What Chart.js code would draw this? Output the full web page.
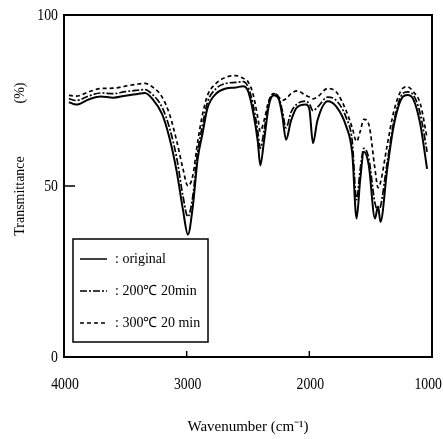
<!DOCTYPE html>
<html>
<head>
<meta charset="utf-8">
<script src="https://cdn.jsdelivr.net/npm/chart.js@4.4.1/dist/chart.umd.min.js"></script>
<style>
html,body{margin:0;padding:0;background:#fff}
#c{display:block}
</style>
</head>
<body>
<canvas id="c" width="443" height="439"></canvas>
<script>
/* ── data ── */
const wavenumbers=[3960,3900,3800,3700,3600,3500,3400,3340,3280,3200,3140,3080,3030,2990,2950,2910,2870,2830,2760,2680,2600,2540,2500,2460,2420,2400,2370,2330,2290,2250,2220,2190,2150,2100,2030,2000,1970,1935,1850,1780,1700,1650,1615,1585,1555,1515,1465,1440,1420,1365,1310,1240,1200,1150,1095,1040];
const original=[74.5,73.8,75.3,76.2,75.8,76.4,76.9,77.2,75.5,71,64,54,43,35.8,44,58,65.5,72.8,77,78.5,78.8,79.2,77.8,72,63,56,63,73.5,76.5,75.5,70.5,63.5,69,73,73.8,72.5,62.5,69,74.8,73.2,67.5,59.5,40.5,52,60,56,40.5,44,39.5,55,68,76,76.6,75.2,68,55];
const heated200=[75.5,75,76.3,77.2,77,77.6,78,78.2,76.8,73,67,58,47,41,47,60,68,74.5,78.5,80,80.3,80.5,79,74,66,61,66,74.5,77,76,72,67,71.5,74,74.8,74,72,73,76,75,70,63,46,55,61,58,45,43,44,57,69,77,77.5,76.5,71,60];
const heated300=[76.5,76.3,77.5,78.5,78.6,79.2,79.8,80,79,76,71,63,55,50,53,63,71,76.5,80,81.8,82.3,81.5,80.5,77,70,66,69,75,77,76,75,75.5,77,77.8,76.5,76,75.5,76,78.5,77.5,72,67,63,66,69.5,68,55,49.5,51,62,72,78.5,79,77.5,74,64];
const seriesLabels=[': original',': 200\u2103 20min',': 300\u2103 20 min'];
const seriesDash=[[],[7,2,2,2],[4,3]];
const xTicks=[4000,3000,2000,1000];
const yTicks=[0,50,100];

const serif='"Liberation Serif","Times New Roman",serif';
const squeeze=0.86;

function pts(vals){return wavenumbers.map(function(w,i){return {x:w,y:vals[i]}})}

// narrow serif text, the scan uses a condensed Times
function narrowText(ctx,txt,px,py,align){
  ctx.save();ctx.translate(px,py);ctx.scale(squeeze,1);
  ctx.textAlign=align;ctx.textBaseline='middle';ctx.fillText(txt,0,0);
  ctx.restore();
}

// frame, inward ticks, tick labels, y title and boxed legend
const decor={
  id:'decor',
  afterDatasetsDraw(chart){
    const ctx=chart.ctx,a=chart.chartArea,x=chart.scales.x,y=chart.scales.y;
    ctx.save();
    ctx.strokeStyle='#000';
    ctx.lineWidth=2;
    ctx.strokeRect(a.left,a.top,a.right-a.left,a.bottom-a.top);
    ctx.lineWidth=1.5;
    ctx.beginPath();
    xTicks.slice(1,-1).forEach(function(v){const px=x.getPixelForValue(v);ctx.moveTo(px,a.bottom);ctx.lineTo(px,a.bottom-6)});
    yTicks.slice(1,-1).forEach(function(v){const py=y.getPixelForValue(v);ctx.moveTo(a.left,py);ctx.lineTo(a.left+11,py)});
    ctx.stroke();

    ctx.fillStyle='#000';
    ctx.font='16px '+serif;
    xTicks.forEach(function(v){
      const t=String(v),half=ctx.measureText(t).width*squeeze/2;
      const cx=Math.min(x.getPixelForValue(v)+1,chart.width-1-half);
      narrowText(ctx,t,cx,a.bottom+28,'center');
    });
    yTicks.forEach(function(v){narrowText(ctx,String(v),a.left-6,y.getPixelForValue(v)+1,'right')});

    // y title, two pieces
    ctx.font='14px '+serif;
    ctx.textAlign='center';ctx.textBaseline='middle';
    ctx.save();ctx.translate(20,196);ctx.rotate(-Math.PI/2);ctx.fillText('Transmittance',0,0);ctx.restore();
    ctx.save();ctx.translate(20,93);ctx.rotate(-Math.PI/2);ctx.fillText('(%)',0,0);ctx.restore();

    // legend
    const bx=a.left+9,by=239,bw=135,bh=103;
    ctx.fillStyle='#fff';ctx.fillRect(bx,by,bw,bh);
    ctx.lineWidth=1.5;ctx.strokeRect(bx,by,bw,bh);
    ctx.fillStyle='#000';ctx.textAlign='left';
    chart.data.datasets.forEach(function(ds,i){
      const ry=by+20+i*32;
      ctx.beginPath();ctx.setLineDash(ds.borderDash||[]);ctx.lineWidth=1.5;
      ctx.moveTo(bx+7,ry);ctx.lineTo(bx+34,ry);ctx.stroke();
      ctx.setLineDash([]);
      ctx.fillText(ds.label,bx+42,ry);
    });
    ctx.restore();
  }
};

new Chart(document.getElementById('c'),{
  type:'line',
  data:{datasets:[original,heated200,heated300].map(function(v,i){
    return {label:seriesLabels[i],data:pts(v),borderColor:'#000',borderWidth:i?1.7:2,borderDash:seriesDash[i],pointRadius:0,cubicInterpolationMode:'monotone',fill:false};
  })},
  options:{
    responsive:false,animation:false,
    layout:{padding:{top:15,right:11,left:0,bottom:0}},
    plugins:{legend:{display:false},tooltip:{enabled:false}},
    scales:{
      x:{type:'linear',reverse:true,min:1000,max:4000,
        afterBuildTicks:function(s){s.ticks=xTicks.map(function(v){return {value:v}})},
        afterFit:function(s){s.height=82;s.paddingLeft=0;s.paddingRight=0},
        grid:{display:false,drawTicks:false},
        border:{display:false},
        ticks:{display:false},
        title:{display:true,text:'Wavenumber (cm\u207B\u00B9)',color:'#000',padding:{top:0,bottom:3},font:{family:serif,size:15}}
      },
      y:{min:0,max:100,
        afterBuildTicks:function(s){s.ticks=yTicks.map(function(v){return {value:v}})},
        afterFit:function(s){s.width=64;s.paddingTop=0;s.paddingBottom=0},
        grid:{display:false,drawTicks:false},
        border:{display:false},
        ticks:{display:false}
      }
    }
  },
  plugins:[decor]
});
</script>
</body>
</html>
